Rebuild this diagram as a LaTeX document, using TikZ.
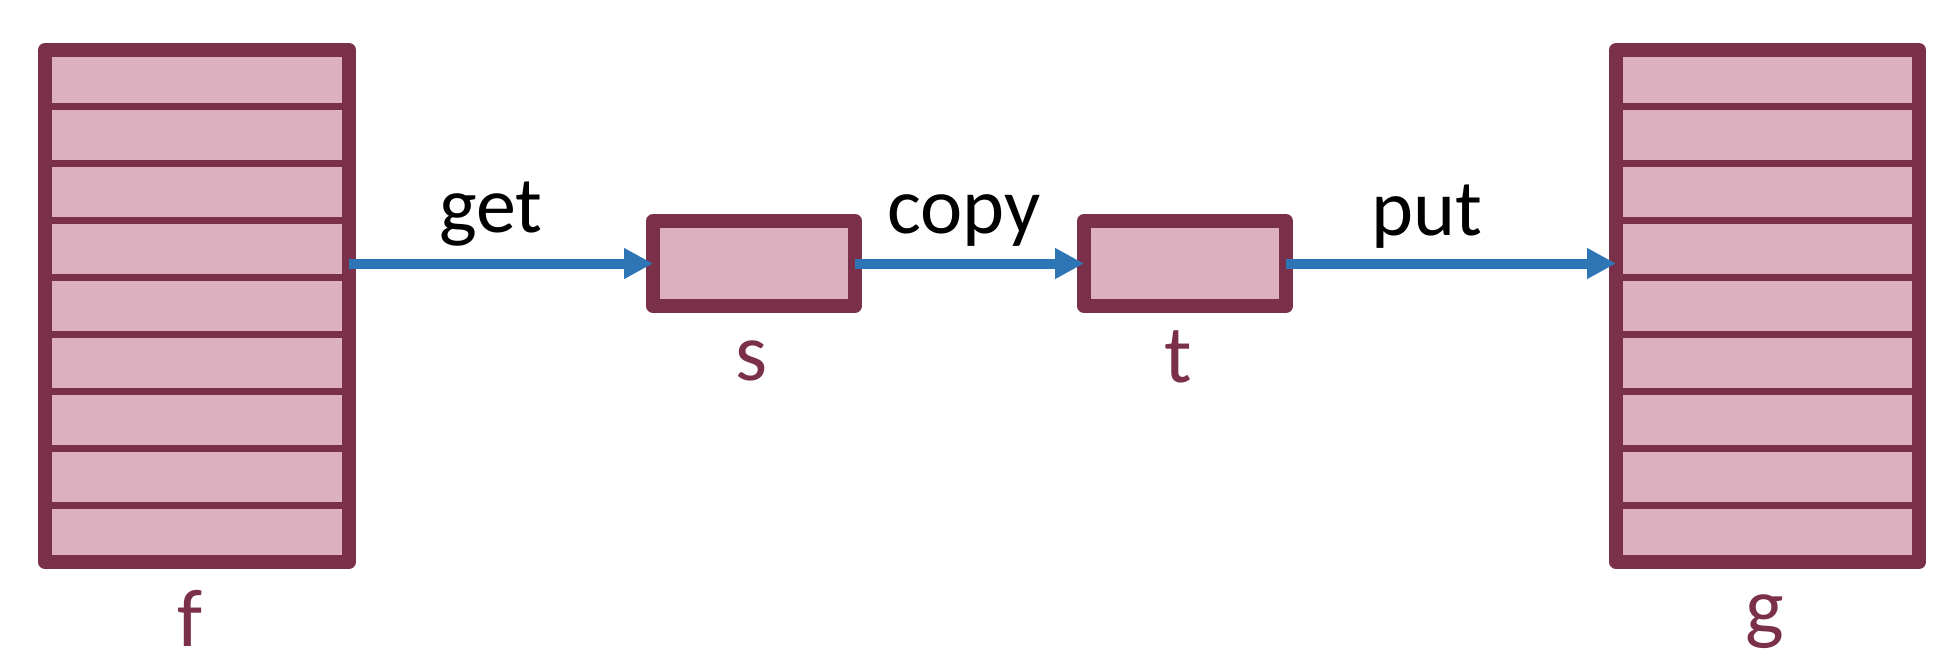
\documentclass[tikz,border=0pt]{standalone}
\usepackage{fontspec}
\setmainfont{Carlito}
\usetikzlibrary{arrows.meta,calc}
\definecolor{frame}{HTML}{7B3049}
\definecolor{cellfill}{HTML}{DDB0C0}
\definecolor{arrowblue}{HTML}{2E75B6}
\begin{document}
\begin{tikzpicture}[x=1pt,y=-1pt,
  arr/.style={draw=frame,fill=cellfill,line width=14pt,line join=round,inner sep=0pt,outer sep=0pt},
  cell/.style={draw=frame,fill=cellfill,line width=14pt,line join=round,inner sep=0pt,outer sep=0pt},
  divider/.style={draw=frame,line width=7pt},
  flow/.style={draw=arrowblue,line width=10pt,-{Triangle[length=29pt,width=29pt]}},
  oplabel/.style={font=\fontsize{80}{84}\selectfont,text=black,anchor=base,inner sep=0pt},
  namelabel/.style={font=\fontsize{82}{86}\selectfont,text=frame,anchor=base,inner sep=0pt}]
\useasboundingbox (0,0) rectangle (1956,662);
\node[arr,minimum width=304pt,minimum height=512pt] (f) at (197,306) {};
\node[arr,minimum width=303pt,minimum height=512pt] (g) at (1767.5,306) {};
\node[cell,minimum width=202pt,minimum height=85pt] (s) at (754,263.5) {};
\node[cell,minimum width=202pt,minimum height=85pt] (t) at (1185,263.5) {};
\foreach \k in {1,...,8}{
  \draw[divider] ($(f.north west)!\k/9!(f.south west)$) -- ($(f.north east)!\k/9!(f.south east)$);
  \draw[divider] ($(g.north west)!\k/9!(g.south west)$) -- ($(g.north east)!\k/9!(g.south east)$);
}
\draw[flow] (f.east |- s.west) -- (s.west);
\draw[flow] (s.east) -- (t.west);
\draw[flow] (t.east) -- (t.east -| g.west);
\node[oplabel] (lget) at (491,232) {get};
\node[oplabel] (lcopy) at (964,233) {copy};
\node[oplabel] (lput) at (1427,235) {put};
\node[namelabel] (lf) at (190,646) {f};
\node[namelabel] (ls) at (752,380) {s};
\node[namelabel] (lt) at (1178,382) {t};
\node[namelabel] (lg) at (1765,634) {g};
\end{tikzpicture}
\end{document}
